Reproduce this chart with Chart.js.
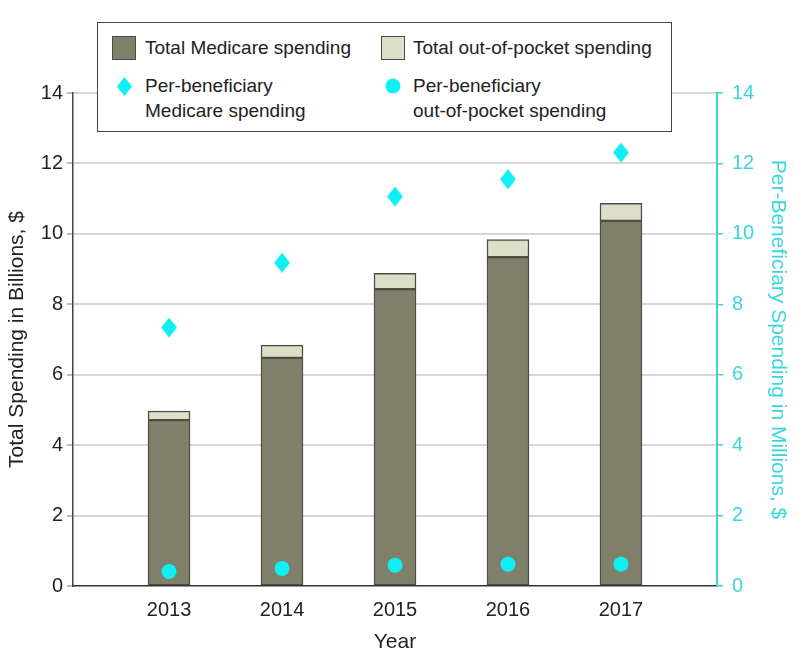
<!DOCTYPE html>
<html>
<head>
<meta charset="utf-8">
<script src="https://cdn.jsdelivr.net/npm/chart.js@4/dist/chart.umd.min.js"></script>
<style>
  body { margin: 0; background: #fff; }
  #wrap { position: relative; width: 794px; height: 671px; font-family: 'Liberation Sans', Arial, sans-serif; color: #222; }
  #legendBox {
    position: absolute; left: 97px; top: 22px; width: 575px; height: 110px;
    box-sizing: border-box; border: 1px solid #444; background: #fff;
    font-size: 19px; line-height: 25px;
  }
  #legendBox .sw { position: absolute; width: 24px; height: 24px; box-sizing: border-box; border: 1.5px solid #4d4d45; }
  #legendBox .txt { position: absolute; white-space: nowrap; }
</style>
</head>
<body>
<div id="wrap">
  <canvas id="spendChart" width="794" height="671"></canvas>
  <div id="legendBox">
    <div class="sw" style="left:14px;top:13px;background:#80806a"></div>
    <div class="txt" style="left:47px;top:12px">Total Medicare spending</div>
    <div class="sw" style="left:283px;top:13px;background:#dcdec8"></div>
    <div class="txt" style="left:315px;top:12px">Total out-of-pocket spending</div>
    <svg style="position:absolute;left:19px;top:54px" width="15" height="19"><polygon points="7.5,0 15,9.5 7.5,19 0,9.5" fill="#0ff0f5"/></svg>
    <div class="txt" style="left:47px;top:50px">Per-beneficiary<br>Medicare spending</div>
    <svg style="position:absolute;left:287px;top:55px" width="16" height="16"><circle cx="8" cy="8" r="7.5" fill="#0ff0f5"/></svg>
    <div class="txt" style="left:315px;top:50px">Per-beneficiary<br>out-of-pocket spending</div>
  </div>
</div>
<script>
// values (billions / millions $)
const years = [2013, 2014, 2015, 2016, 2017];
const medicareTotal = [4.71, 6.48, 8.43, 9.34, 10.37];
const oopTotal = [0.26, 0.36, 0.45, 0.50, 0.50];
const medicarePerBene = [7.34, 9.18, 11.06, 11.55, 12.31];
const oopPerBene = [0.41, 0.50, 0.59, 0.62, 0.62];
const yTicks = [0, 2, 4, 6, 8, 10, 12, 14];

const cyan = '#0ff0f5';
const axisCyan = '#3ad6dc';
const font = "'Liberation Sans', Arial, sans-serif";

// tall diamond marker
const diamond = document.createElement('canvas');
diamond.width = 16; diamond.height = 20;
const dctx = diamond.getContext('2d');
dctx.fillStyle = cyan;
dctx.beginPath();
dctx.moveTo(8, 0); dctx.lineTo(16, 10); dctx.lineTo(8, 20); dctx.lineTo(0, 10);
dctx.closePath(); dctx.fill();

const medBars = years.map((yr, i) => ({ x: yr, y: [0, medicareTotal[i]] }));
const oopBars = years.map((yr, i) => ({ x: yr, y: [medicareTotal[i], medicareTotal[i] + oopTotal[i]] }));

const ctx = document.getElementById('spendChart').getContext('2d');
const chart = new Chart(ctx, {
  type: 'bar',
  data: {
    datasets: [
      { type: 'line', data: years.map((yr, i) => ({ x: yr, y: medicarePerBene[i] })), yAxisID: 'y2',
        showLine: false, pointStyle: diamond, pointRadius: 8, order: 0 },
      { type: 'line', data: years.map((yr, i) => ({ x: yr, y: oopPerBene[i] })), yAxisID: 'y2',
        showLine: false, pointStyle: 'circle', pointRadius: 7.5, backgroundColor: cyan, borderWidth: 0, order: 0 },
      { label: 'Total Medicare spending', data: medBars, backgroundColor: '#80806a', borderColor: '#4d4d45',
        borderWidth: 1.5, borderSkipped: false, grouped: false, barThickness: 42, order: 2 },
      { label: 'Total out-of-pocket spending', data: oopBars, backgroundColor: '#dcdec8', borderColor: '#4d4d45',
        borderWidth: 1.5, borderSkipped: false, grouped: false, barThickness: 42, order: 1 }
    ]
  },
  options: {
    responsive: false,
    animation: false,
    layout: { padding: { top: 93, left: 0, right: 0, bottom: 0 } },
    plugins: { legend: { display: false }, tooltip: { enabled: false } },
    scales: {
      x: {
        type: 'linear', min: 2012.15, max: 2017.85, offset: false,
        afterFit: s => { s.height = 85; },
        grid: { display: false, drawTicks: false, offset: false },
        border: { display: true, color: '#333', width: 1.5 },
        ticks: {
          stepSize: 1, includeBounds: false, padding: 12, color: '#222',
          font: { family: font, size: 20 },
          callback: v => (Number.isInteger(v) && v >= 2013 && v <= 2017) ? String(v) : ''
        },
        title: { display: true, text: 'Year', color: '#222', font: { family: font, size: 21 }, padding: { top: 0, bottom: 16 } }
      },
      y: {
        position: 'left', min: 0, max: 14,
        afterFit: s => { s.width = 73; },
        afterBuildTicks: s => { s.ticks = yTicks.map(v => ({ value: v })); },
        grid: { color: c => c.tick && c.tick.value === 0 ? 'rgba(0,0,0,0)' : '#d6d6d6', lineWidth: 2, tickLength: 6,
                tickColor: '#bbb' },
        border: { display: true, color: '#444', width: 1.5 },
        ticks: { padding: 4, color: '#222', font: { family: font, size: 20 } },
        title: { display: true, text: 'Total Spending in Billions, $', color: '#222', font: { family: font, size: 21 }, padding: { top: 5, bottom: 0 } }
      },
      y2: {
        position: 'right', min: 0, max: 14,
        afterFit: s => { s.width = 77; },
        afterBuildTicks: s => { s.ticks = yTicks.map(v => ({ value: v })); },
        grid: { drawOnChartArea: false, color: axisCyan, tickLength: 6, lineWidth: 1.5 },
        border: { display: true, color: axisCyan, width: 2 },
        ticks: { padding: 9, color: axisCyan, font: { family: font, size: 20 } },
        title: { display: true, text: 'Per-Beneficiary Spending in Millions, $', color: axisCyan, font: { family: font, size: 21 }, padding: { top: 4, bottom: 0 } }
      }
    }
  }
});
</script>
</body>
</html>
